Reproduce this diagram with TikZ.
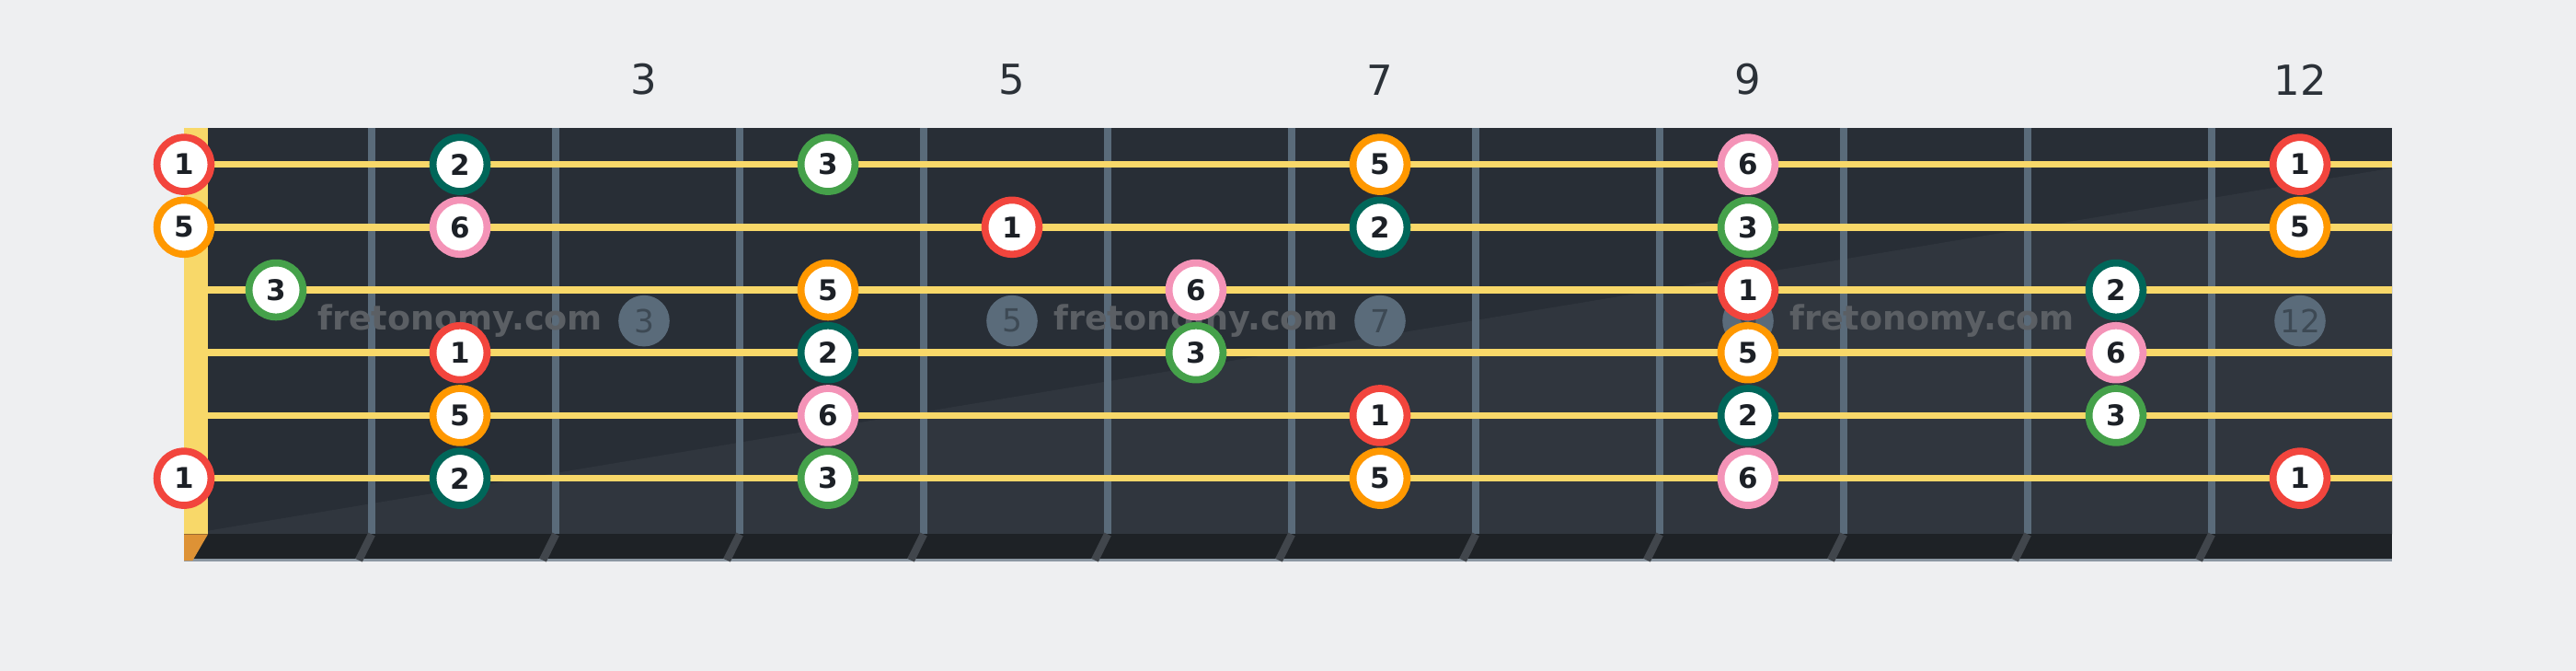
\documentclass[tikz,border=0pt]{standalone}
\usepackage{fontspec}
\setmainfont{DejaVu Sans}
\usepackage{tikz}
\usepackage{xcolor}

\definecolor{bgcol}{HTML}{EEEFF1}
\definecolor{boardcol}{HTML}{282E36}
\definecolor{boardlite}{HTML}{30363E}
\definecolor{stripcol}{HTML}{1E2226}
\definecolor{bevcol}{HTML}{41464C}
\definecolor{fretcol}{HTML}{5A6B7A}
\definecolor{stringcol}{HTML}{F8D869}
\definecolor{nutedge}{HTML}{DE9235}
\definecolor{numcol}{HTML}{2B3138}
\definecolor{inkcol}{HTML}{1C2026}
\definecolor{dotink}{HTML}{3D4954}
\definecolor{wmcol}{HTML}{5B5F64}
\definecolor{rootcol}{HTML}{F2453D}
\definecolor{twocol}{HTML}{006659}
\definecolor{thrcol}{HTML}{45A14A}
\definecolor{fivcol}{HTML}{FF9800}
\definecolor{sixcol}{HTML}{F493B7}

\begin{document}
\begin{tikzpicture}[
  note/.style={circle, draw=#1, fill=white, line width=1.1pt, minimum size=0.294cm,
    inner sep=0pt, text=inkcol, font=\fontsize{4.4}{5}\selectfont\bfseries},
  deg1/.style={note=rootcol}, deg2/.style={note=twocol}, deg3/.style={note=thrcol},
  deg5/.style={note=fivcol}, deg6/.style={note=sixcol},
  dot/.style={circle, fill=fretcol, minimum size=0.278cm, inner sep=0pt,
    text=dotink, font=\fontsize{4.9}{6}\selectfont},
  wmark/.style={text=wmcol, font=\fontsize{5.2}{6}\selectfont\bfseries},
  fretno/.style={text=numcol, font=\fontsize{6.4}{8}\selectfont}]
\useasboundingbox (0,0) rectangle (14,3.643);
\fill[bgcol] (0,0) rectangle (14,3.643);

%board
\fill[boardcol] (1,0.741) rectangle (13,2.947);
\fill[boardlite] (1.13,0.76) -- (13,2.73) -- (13,0.741) -- (1.13,0.741) -- cycle;
\fill[stripcol] (1,0.598) rectangle (13,0.741);
\draw[fretcol!70, line width=0.4pt] (1,0.6) -- (13,0.6);

%frets
\foreach \f in {1,...,11} {
  \draw[fretcol, line width=1.2pt] (\f+1.02,0.741) -- (\f+1.02,2.947);
  \draw[bevcol, line width=1.2pt] (\f+1.02,0.741) -- (\f+0.95,0.6);
}

%nut
\fill[stringcol] (1,0.741) rectangle (1.13,2.947);
\fill[nutedge] (1,0.598) -- (1,0.741) -- (1.13,0.741) -- (1.047,0.598) -- cycle;

%markers
\foreach \f in {3,5,7,9,12} {
  \node[fretno] (num-\f) at (\f+0.5,3.21) {\f};
  \node[dot] (dot-\f) at (\f+0.5,1.90) {\f};
}
\foreach \x [count=\i] in {2.5,6.5,10.5}
  \node[wmark] (wm-\i) at (\x,1.90) {fretonomy.com};

%strings
\foreach \s in {1,...,6}
  \draw[stringcol, line width=1.1pt] (1.13,2.75-0.341*\s+0.341) -- (13,2.75-0.341*\s+0.341);

%notes
\foreach \s/\f/\d in {1/0/1, 1/2/2, 1/4/3, 1/7/5, 1/9/6, 1/12/1,
                      2/0/5, 2/2/6, 2/5/1, 2/7/2, 2/9/3, 2/12/5,
                      3/1/3, 3/4/5, 3/6/6, 3/9/1, 3/11/2,
                      4/2/1, 4/4/2, 4/6/3, 4/9/5, 4/11/6,
                      5/2/5, 5/4/6, 5/7/1, 5/9/2, 5/11/3,
                      6/0/1, 6/2/2, 6/4/3, 6/7/5, 6/9/6, 6/12/1} {
  \pgfmathsetmacro\x{\f==0 ? 1 : \f+0.5}
  \pgfmathsetmacro\y{2.75-0.341*(\s-1)}
  \node[deg\d] (n\s-\f) at (\x,\y) {\d};
}
\end{tikzpicture}
\end{document}
